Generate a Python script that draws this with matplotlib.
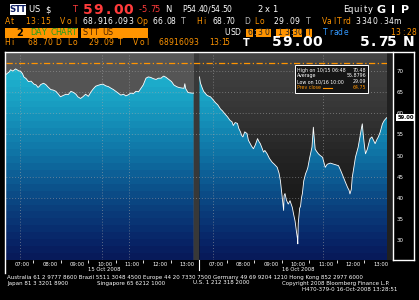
import numpy as np
import matplotlib
matplotlib.use('Agg')
import matplotlib.pyplot as plt
import matplotlib.transforms as mtransforms
from matplotlib.colors import LinearSegmentedColormap, ListedColormap
from matplotlib.patches import Rectangle, Polygon
from matplotlib.lines import Line2D

W, H = 419, 300
DAY_LEN = 410      # minutes shown per day, 06:30 -> 13:20
GAP = 13
Y0, Y1 = 25.27, 74.38

# previous day (minutes after 06:30, price)
left_t = [0, 7, 10, 15, 21, 27, 32, 36, 39, 44, 49, 55, 61, 66, 70, 73, 76, 82, 87, 92,
          98, 103, 109, 114, 119, 125, 131, 136, 142, 148, 153, 157, 163, 168, 174, 180, 186, 191, 196, 201,
          207, 212, 218, 224, 230, 235, 240, 245, 251, 257, 262, 268, 273, 278, 284, 290, 295, 300, 306, 311,
          316, 322, 328, 333, 339, 342, 345, 350, 356, 362, 367, 373, 378, 383, 389, 391, 393, 398, 404, 410]
left_px = [69.2, 69.8, 70.3, 70.0, 70.5, 70.1, 69.9, 69.4, 68.6, 68.2, 67.5, 67.6, 66.9, 66.7, 66.1, 66.4, 66.8, 67.1, 66.8, 66.2,
           65.6, 65.5, 65.2, 64.6, 63.9, 64.2, 64.5, 64.4, 65.2, 64.9, 64.5, 63.9, 63.5, 63.9, 64.5, 64.0, 65.1, 65.8, 66.4, 66.6,
           66.8, 66.9, 66.5, 66.3, 65.9, 65.6, 65.2, 64.8, 64.3, 64.5, 64.1, 64.4, 64.8, 64.6, 65.2, 65.1, 65.9, 66.7, 68.3, 68.6,
           68.5, 68.2, 68.0, 68.3, 68.3, 68.6, 68.8, 68.5, 68.0, 67.5, 66.7, 66.3, 66.1, 66.0, 65.9, 67.0, 65.8, 64.9, 64.8, 64.75]

# current day
right_t = [0, 2, 6, 9, 12, 17, 24, 29, 35, 40, 46, 50, 56, 61, 67, 71, 74, 78, 83, 86,
           90, 92, 95, 99, 104, 107, 111, 114, 118, 122, 127, 130, 133, 137, 140, 143, 148, 153, 159, 164,
           170, 174, 177, 179, 181, 184, 185, 187, 190, 194, 198, 203, 206, 209, 212, 214, 215, 216, 219, 221,
           223, 225, 228, 232, 235, 237, 241, 246, 249, 251, 253, 256, 260, 264, 269, 272, 275, 279, 281, 286,
           292, 298, 304, 309, 315, 319, 324, 327, 329, 332, 334, 338, 341, 344, 347, 351, 354, 356, 358, 361,
           363, 367, 370, 373, 377, 381, 384, 388, 391, 395, 400, 404, 408, 410]
right_px = [68.6, 67.2, 66.0, 65.2, 64.8, 64.2, 63.9, 63.3, 62.5, 62.0, 61.0, 60.6, 59.8, 59.2, 58.3, 58.0, 57.1, 57.8, 57.6, 56.4,
            55.5, 54.8, 54.4, 55.6, 55.2, 53.6, 52.8, 52.2, 51.6, 52.5, 54.0, 53.3, 52.8, 51.7, 50.8, 51.2, 50.4, 49.3, 48.4, 47.9,
            47.2, 45.8, 44.0, 42.0, 40.0, 37.0, 40.5, 41.0, 39.5, 38.5, 39.3, 37.7, 36.0, 34.5, 32.0, 30.5, 29.09, 34.0, 37.5, 38.0,
            40.0, 41.0, 44.0, 45.7, 46.5, 47.2, 49.5, 52.0, 56.7, 54.0, 51.5, 51.0, 50.4, 50.0, 49.6, 48.4, 47.2, 47.9, 48.0, 48.2,
            48.0, 47.8, 47.6, 46.4, 44.8, 43.7, 42.4, 41.8, 40.9, 42.0, 44.8, 47.5, 49.6, 50.8, 52.0, 54.5, 56.4, 57.5, 55.0, 52.0,
            50.4, 51.5, 52.8, 54.0, 54.4, 53.5, 52.8, 53.8, 54.4, 55.5, 57.5, 58.3, 58.8, 59.0]

hour_labels = ['07:00', '08:00', '09:00', '10:00', '11:00', '12:00', '13:00']
hour_mins = [30, 90, 150, 210, 270, 330, 390]
half_mins = [60, 120, 180, 240, 300, 360]
day_labels = ['15 Oct 2008', '16 Oct 2008']
y_ticks = [30, 35, 40, 45, 50, 55, 60, 65, 70]
grid_y = [70, 65, 60, 55, 45, 40]
grid_x_left = [30, 210, 270]
grid_x_right = [30, 270]
orange_level = 71.9
last_price = '59.00'
legend_rows = [('High on 10/15 06:48', '70.48'), ('Average', '55.8796'),
               ('Low on 10/16 10:00', '29.09'), ('Prev close', '64.75')]

OR = '#ff9400'

fig = plt.figure(figsize=(W / 100, H / 100), dpi=100, facecolor='black')
ax = fig.add_axes([6 / W, 1 - 260 / H, (387 - 6) / W, (260 - 52.5) / H])
ax.set_facecolor('#333333')
for s in ax.spines.values():
    s.set_visible(False)

xr0 = DAY_LEN + GAP
right_x = [t + xr0 for t in right_t]
xmax = 2 * DAY_LEN + GAP


def bands(anchors, n):
    pos = [(v - Y0) / (Y1 - Y0) for v, c in anchors]
    cm = LinearSegmentedColormap.from_list('b', list(zip(pos, [c for v, c in anchors])))
    return ListedColormap(cm(np.linspace(0, 1, n)))


N = 30
img = np.arange(N).reshape(N, 1)
bg_left = bands([(Y0, '#4a4a4a'), (60, '#525252'), (Y1, '#575757')], N)
bg_right = bands([(Y0, '#131313'), (40, '#1b1b1b'), (50, '#242424'), (60, '#353535'), (Y1, '#434343')], N)
fill_cm = bands([(Y0, '#071a5a'), (30, '#08286a'), (40, '#0b4a85'), (50, '#0f72a4'),
                 (60, '#1696bd'), (Y1, '#23bfd6')], N)

ax.imshow(img, extent=[0, DAY_LEN, Y0, Y1], origin='lower', aspect='auto', cmap=bg_left,
          interpolation='nearest', zorder=0)
ax.imshow(img, extent=[xr0, xmax, Y0, Y1], origin='lower', aspect='auto', cmap=bg_right,
          interpolation='nearest', zorder=0)
ax.axvspan(DAY_LEN, xr0, color='#383838', zorder=1, lw=0)

for xs, ys, x0, x1 in [(left_t, left_px, 0, DAY_LEN), (right_x, right_px, xr0, xmax)]:
    verts = [(xs[0], Y0)] + list(zip(xs, ys)) + [(xs[-1], Y0)]
    poly = Polygon(verts, closed=True, fc='none', ec='none', transform=ax.transData)
    ax.add_patch(poly)
    im = ax.imshow(img, extent=[x0, x1, Y0, Y1], origin='lower', aspect='auto', cmap=fill_cm,
                   interpolation='nearest', zorder=2)
    im.set_clip_path(poly)

for g in grid_y:
    ax.axhline(g, color='#a8a8a8', lw=0.6, ls=(0, (1, 2.5)), alpha=0.7, zorder=4)
for g in grid_x_left:
    ax.axvline(g, color='#a8a8a8', lw=0.6, ls=(0, (1, 2.5)), alpha=0.7, zorder=4)
for g in grid_x_right:
    ax.axvline(g + xr0, color='#a8a8a8', lw=0.6, ls=(0, (1, 2.5)), alpha=0.7, zorder=4)

ax.axhline(orange_level, color=OR, lw=0.9, ls=(0, (5, 2, 1, 2)), zorder=5)
ax.plot(left_t, left_px, color='white', lw=0.6, zorder=6)
ax.plot(right_x, right_px, color='white', lw=0.6, zorder=6)

ax.set_xlim(0, xmax)
ax.set_ylim(Y0, Y1)

ax.set_xticks(hour_mins + [m + xr0 for m in hour_mins])
ax.set_xticklabels(hour_labels * 2)
ax.set_xticks(half_mins + [m + xr0 for m in half_mins], minor=True)
ax.tick_params(axis='x', which='major', length=0, pad=1.5, labelsize=3.8, labelcolor='white')
ax.tick_params(axis='x', which='minor', length=1.8, width=0.6, color='white')
shift = mtransforms.ScaledTranslation(3 / 100, 0, fig.dpi_scale_trans)
for lab in ax.get_xticklabels():
    lab.set_transform(lab.get_transform() + shift)

ax.yaxis.tick_right()
ax.set_yticks(y_ticks)
ax.set_yticklabels([str(v) for v in y_ticks])
ax.tick_params(axis='y', length=4.3, width=0.8, color='#999999', pad=2.5, labelsize=4, labelcolor='white')


def fx(x):
    return x / W


def fy(y):
    return 1 - y / H


def box(x0, y0, x1, y1, c, ec='none', lw=0):
    fig.add_artist(Rectangle((fx(x0), fy(y1)), (x1 - x0) / W, (y1 - y0) / H, transform=fig.transFigure,
                             facecolor=c, edgecolor=ec, lw=lw))


def line(xs, ys, c='white', lw=1.0):
    fig.add_artist(Line2D([fx(x) for x in xs], [fy(y) for y in ys], transform=fig.transFigure, color=c, lw=lw))


def mono(x, y, s, c, fs, pitch, bold=False):
    for i, ch in enumerate(s):
        if ch != ' ':
            fig.text(fx(x + (i + 0.5) * pitch), fy(y), ch, color=c, fontsize=fs, ha='center', va='center',
                     fontweight='bold' if bold else 'normal')


def txt(x, y, s, c='white', fs=4.3, ha='left'):
    fig.text(fx(x), fy(y), s, color=c, fontsize=fs, ha=ha, va='center')


# frame and right-hand scale strip
box(387, 52, 393, 260, '#202020')
line([5, 414], [52, 52])
line([5, 5], [52, 273])
line([393, 393], [52, 260])
line([414, 414], [52, 260])
line([393, 414], [260, 260])
line([199, 199], [260, 270], lw=0.8)

# last price tag
box(396, 114, 415, 121, 'white')
fig.text(fx(405.5), fy(117.5), last_price, color='black', fontsize=3.8, fontweight='bold', ha='center', va='center')

# legend box
box(295, 65, 368, 93, '#151515', ec='white', lw=0.7)
for i, (name, val) in enumerate(legend_rows):
    yy = 70 + i * 5.8
    c = OR if i == 3 else 'white'
    txt(297, yy, name, c, 3.4)
    txt(366, yy, val, c, 3.4, ha='right')
line([323, 332], [87.8, 87.8], c=OR, lw=0.8)

# header row 1
box(10, 4, 26, 15, 'white')
mono(10, 10, 'STT', '#0a1a60', 6.2, 5.3, bold=True)
mono(29, 10, 'US $', 'white', 6, 5.3)
mono(72, 10, 'T', '#ff3b3b', 6, 5)
mono(83, 10, '59.00', '#ff3b3b', 10, 10, bold=True)
mono(138, 10, '-5.75', '#ff3b3b', 6, 4.2)
mono(165, 10, 'N', 'white', 6, 6)
mono(183, 10, 'P54.40/54.50', 'white', 5.5, 4)
mono(257, 10, '2x1', 'white', 6, 7)
mono(343, 10, 'Equity', 'white', 6, 5)
mono(375, 10, 'GIP', 'white', 8, 12, bold=True)

# header row 2
mono(5, 21, 'At', OR, 5.5, 5)
mono(25, 21, '13:15', OR, 5.5, 5)
mono(60, 21, 'Vol', OR, 5.5, 6)
mono(82, 21, '68,916,093', 'white', 5.5, 5.1)
mono(137, 21, 'Op', OR, 5.5, 5)
mono(153, 21, '66.08', 'white', 5.5, 4.5)
mono(181, 21, 'T', '#bbbbbb', 5.5, 5)
mono(197, 21, 'Hi', OR, 5.5, 5)
mono(213, 21, '68.70', 'white', 5.5, 4.2)
mono(245, 21, 'D', '#bbbbbb', 5.5, 5)
mono(253, 21, 'Lo', OR, 5.5, 6)
mono(273, 21, '29.09', 'white', 5.5, 5.4)
mono(306, 21, 'T', '#bbbbbb', 5.5, 5)
mono(322, 21, 'ValTrd', OR, 5.5, 4.8)
mono(355, 21, '3340.34m', 'white', 5.5, 5.6)

# header row 3
box(5, 28, 78, 37.5, OR)
mono(16, 32.5, '2', 'black', 7, 7, bold=True)
mono(31, 32.5, 'DAY CHART', '#1e9e1e', 5.8, 5)
box(81, 28, 148, 37.5, OR)
mono(83, 32.5, 'STT US', '#4a2000', 5.8, 5)
mono(225, 32.5, 'USD', 'white', 5.5, 5)
box(246, 28.5, 253, 37, OR)
mono(246, 32.5, '6', '#222222', 5.5, 7)
mono(253, 32.5, ':', 'white', 5.5, 2.5)
box(256, 28.5, 271, 37, OR)
mono(256, 32.5, '30', '#222222', 5.5, 7.5)
box(276, 28.5, 290, 37, OR)
mono(276, 32.5, '13', '#222222', 5.5, 7)
mono(290, 32.5, ':', 'white', 5.5, 2.5)
box(293, 28.5, 302, 37, OR)
mono(293, 32.5, '30', '#222222', 5.5, 4.5)
box(306, 28.5, 312, 37, OR)
mono(306, 32.5, 'T', '#222222', 5.5, 6)
mono(323, 32.5, 'Trade', '#3399ff', 5.5, 5)
mono(390, 32.5, '13:28', OR, 5.5, 5.4)

# header row 4
mono(5, 42.5, 'Hi', OR, 5.5, 5)
mono(27, 42.5, '68.70', OR, 5.5, 5)
mono(56, 42.5, 'D', OR, 5.5, 5)
mono(67, 42.5, 'Lo', OR, 5.5, 5.5)
mono(88, 42.5, '29.09', OR, 5.5, 5)
mono(118, 42.5, 'T', OR, 5.5, 5)
mono(133, 42.5, 'Vol', OR, 5.5, 5.7)
mono(158, 42.5, '68916093', OR, 5.5, 5.1)
mono(210, 42.5, '13:15', OR, 5.5, 3.8)
mono(243, 42.5, 'T', 'white', 7, 7, bold=True)
mono(272, 42.5, '59.00', 'white', 10, 10, bold=True)
mono(360, 42.5, '5.75', 'white', 10, 9, bold=True)
mono(403, 42.5, 'N', 'white', 10, 11, bold=True)

# day labels
txt(104, 269.5, day_labels[0], fs=3.8, ha='center')
txt(298, 269.5, day_labels[1], fs=3.8, ha='center')

# footer
txt(7, 277, 'Australia 61 2 9777 8600 Brazil 5511 3048 4500 Europe 44 20 7330 7500 '
            'Germany 49 69 9204 1210 Hong Kong 852 2977 6000', fs=4.0)
txt(7, 283, 'Japan 81 3 3201 8900', fs=4.0)
txt(97, 283, 'Singapore 65 6212 1000', fs=4.0)
txt(193, 283, 'U.S. 1 212 318 2000', fs=4.0)
txt(282, 283, 'Copyright 2008 Bloomberg Finance L.P.', fs=4.0)
txt(302, 289.5, 'H470-379-0 16-Oct-2008 13:28:51', fs=4.0)

fig.savefig('out.png', dpi=100, facecolor='black')
